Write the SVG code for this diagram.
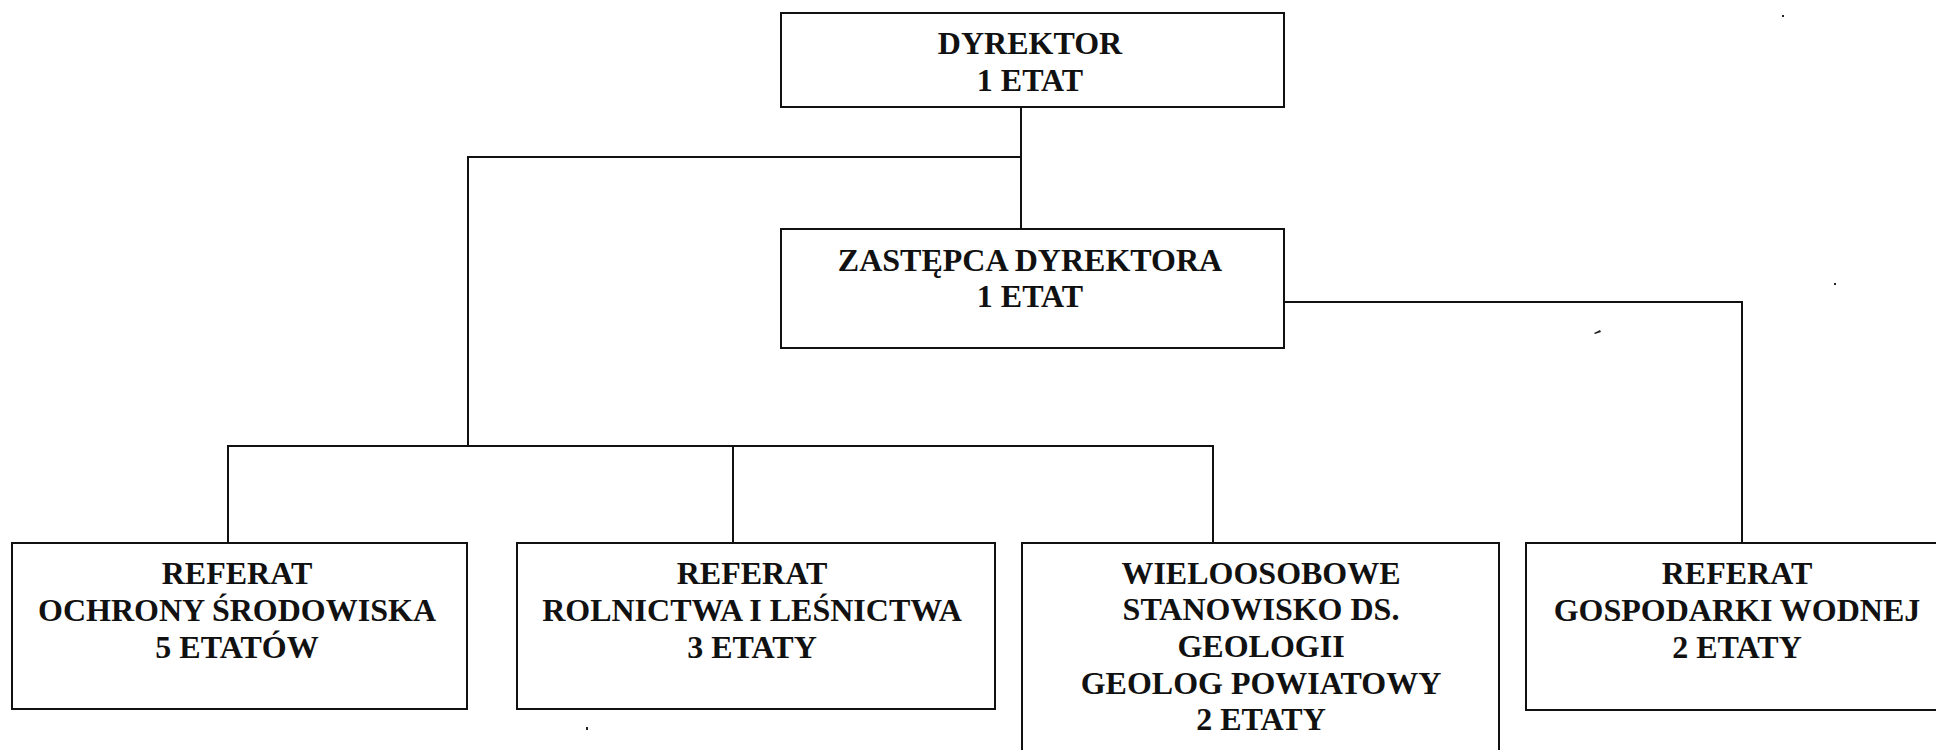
<svg xmlns="http://www.w3.org/2000/svg" width="1936" height="750" viewBox="0 0 1936 750">
<style>
.box{fill:#fff;stroke:#111;stroke-width:2}
.ln{fill:none;stroke:#111;stroke-width:2}
text{font-family:"Liberation Serif","Times New Roman",serif;font-weight:bold;font-size:32px;fill:#111;text-anchor:middle}
.speck{fill:#222}
</style>
<rect width="1936" height="750" fill="#fff"/>
<g id="connectors">
<path class="ln" d="M1021,107 V229"/>
<path class="ln" d="M1021,157 H468 V446"/>
<path class="ln" d="M228,543 V446 H1213 V543"/>
<path class="ln" d="M733,446 V543"/>
<path class="ln" d="M1284,302 H1742 V543"/>
</g>
<g id="n-dyrektor">
<rect class="box" x="781" y="13" width="503" height="94"/>
<text x="1030" y="54">DYREKTOR</text>
<text x="1030" y="91">1 ETAT</text>
</g>
<g id="n-zastepca">
<rect class="box" x="781" y="229" width="503" height="119"/>
<text x="1030" y="271">ZASTĘPCA DYREKTORA</text>
<text x="1030" y="307">1 ETAT</text>
</g>
<g id="n-ochrona">
<rect class="box" x="12" y="543" width="455" height="166"/>
<text x="237" y="584">REFERAT</text>
<text x="237" y="621">OCHRONY ŚRODOWISKA</text>
<text x="237" y="658">5 ETATÓW</text>
</g>
<g id="n-rolnictwo">
<rect class="box" x="517" y="543" width="478" height="166"/>
<text x="752" y="584">REFERAT</text>
<text x="752" y="621">ROLNICTWA I LEŚNICTWA</text>
<text x="752" y="658">3 ETATY</text>
</g>
<g id="n-geologia">
<rect class="box" x="1022" y="543" width="477" height="230"/>
<text x="1261" y="584">WIELOOSOBOWE</text>
<text x="1261" y="620">STANOWISKO DS.</text>
<text x="1261" y="657">GEOLOGII</text>
<text x="1261" y="694">GEOLOG POWIATOWY</text>
<text x="1261" y="730">2 ETATY</text>
</g>
<g id="n-gospodarka">
<rect class="box" x="1526" y="543" width="430" height="167"/>
<text x="1737" y="584">REFERAT</text>
<text x="1737" y="621">GOSPODARKI WODNEJ</text>
<text x="1737" y="658">2 ETATY</text>
</g>
<g id="specks">
<rect class="speck" x="1782" y="15" width="2" height="2"/>
<rect class="speck" x="1834" y="283" width="2" height="2"/>
<path class="speck" d="M1594,333 L1600,330 L1601,332 L1595,334 Z"/>
<rect class="speck" x="586" y="727" width="2" height="3"/>
</g>
</svg>
